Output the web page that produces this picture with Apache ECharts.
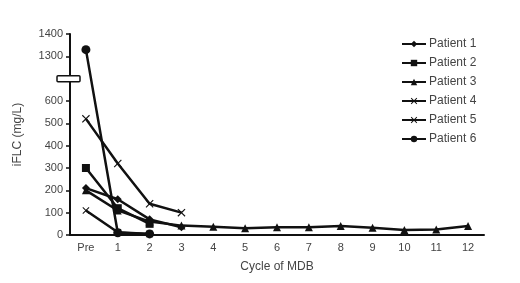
<!DOCTYPE html>
<html>
<head>
<meta charset="utf-8">
<script src="https://cdn.jsdelivr.net/npm/echarts@6/dist/echarts.min.js"></script>
<style>
  html, body { margin: 0; padding: 0; background: #fff; }
  #chart { width: 520px; height: 283px; }
</style>
</head>
<body>
<div id="chart"></div>
<script>
  var cycles = ['Pre', '1', '2', '3', '4', '5', '6', '7', '8', '9', '10', '11', '12'];
  var patient1 = [210, 160, 70, 35];
  var patient2 = [300, 120, 50];
  var patient3 = [200, 110, 60, 42, 37, 30, 35, 35, 40, 32, 22, 25, 40];
  var patient4 = [520, 320, 140, 100];
  var patient5 = [110, 12, 5];
  var patient6 = [1330, 10, 5];
  var yTicks = [0, 100, 200, 300, 400, 500, 600, 1300, 1400];

  // broken y axis: 700..1200 is cut out
  var cut = 500;
  function toAxis(v) { return v > 700 ? v - cut : v; }
  function fromAxis(v) { return v > 700 ? v + cut : v; }

  var xSym = 'path://M1,0L5,4L9,0L10,1L6,5L10,9L9,10L5,6L1,10L0,9L4,5L0,1Z';

  function makeSeries(name, arr, symbol, size) {
    return {
      name: name,
      type: 'line',
      data: arr.map(toAxis),
      symbol: symbol,
      symbolSize: size,
      lineStyle: { color: '#111', width: 2.5 },
      itemStyle: { color: '#111' },
      emphasis: { disabled: true }
    };
  }

  var myChart = echarts.init(document.getElementById('chart'));
  var option = {
    animation: false,
    textStyle: { fontFamily: 'Liberation Sans, Arial, sans-serif' },
    grid: { left: 70, right: 36, top: 34, bottom: 48 },
    legend: {
      orient: 'vertical',
      left: 396,
      top: 33,
      itemGap: 7,
      itemWidth: 24,
      itemHeight: 8,
      textStyle: { fontSize: 12, color: '#444', padding: [0, 0, 0, -2] },
      data: ['Patient 1', 'Patient 2', 'Patient 3', 'Patient 4', 'Patient 5', 'Patient 6']
    },
    xAxis: {
      type: 'category',
      data: cycles,
      name: 'Cycle of MDB',
      nameLocation: 'middle',
      nameGap: 26,
      nameTextStyle: { fontSize: 12, color: '#444' },
      axisLine: { lineStyle: { color: '#111', width: 2 } },
      axisTick: { length: 4, lineStyle: { width: 1.5 } },
      axisLabel: { fontSize: 11, color: '#444', margin: 7 }
    },
    yAxis: {
      type: 'value',
      min: 0,
      max: 900,
      interval: 100,
      name: 'iFLC (mg/L)',
      nameLocation: 'middle',
      nameGap: 46,
      nameTextStyle: { fontSize: 12, color: '#444' },
      splitLine: { show: false },
      axisLine: { show: true, lineStyle: { color: '#111', width: 2 } },
      axisTick: { show: true, length: 4, lineStyle: { width: 1.5 } },
      axisLabel: {
        fontSize: 11, color: '#444', margin: 7,
        formatter: function (v) {
          var real = fromAxis(v);
          return yTicks.indexOf(real) >= 0 ? String(real) : '';
        }
      }
    },
    series: [
      makeSeries('Patient 1', patient1, 'diamond', 8),
      makeSeries('Patient 2', patient2, 'rect', 8),
      makeSeries('Patient 3', patient3, 'triangle', 8),
      makeSeries('Patient 4', patient4, xSym, 8),
      makeSeries('Patient 5', patient5, xSym, 7),
      makeSeries('Patient 6', patient6, 'circle', 9)
    ]
  };
  myChart.setOption(option);

  // break mark on the y axis
  var by = myChart.convertToPixel({ yAxisIndex: 0 }, 700);
  myChart.setOption({
    graphic: [{
      type: 'rect',
      shape: { x: 57, y: by - 3, width: 23, height: 6, r: 1 },
      style: { fill: '#fff', stroke: '#111', lineWidth: 1.5 },
      z: 100
    }]
  });
</script>
</body>
</html>
